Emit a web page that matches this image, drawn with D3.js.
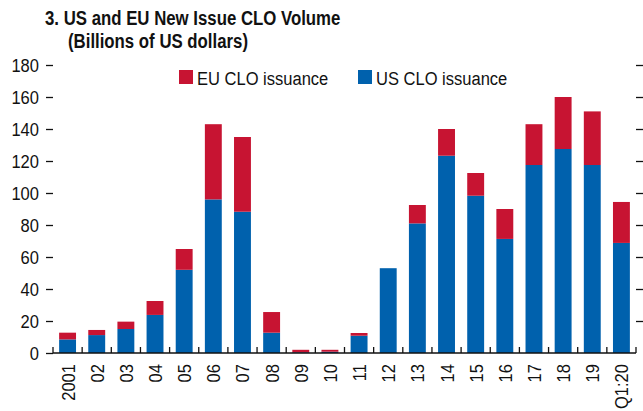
<!DOCTYPE html>
<html>
<head>
    <style>
        body { margin: 0; background: #fff; }
        svg text { font-family: "Liberation Sans", Arial, sans-serif; fill: #111; }
        .title { font-weight: bold; font-size: 21px; }
        .tick-label { font-size: 19px; }
        .legend text { font-size: 19px; }
    </style>
    <script src="https://d3js.org/d3.v7.min.js"></script>
</head>
<body>
    <svg width="643" height="411"></svg>

    <script>
        // chart data (billions of US dollars)
        var years = ["2001", "02", "03", "04", "05", "06", "07", "08", "09", "10",
                     "11", "12", "13", "14", "15", "16", "17", "18", "19", "Q1:20"];
        var usCLO = [8.5, 11.2, 15, 23.8, 52, 96, 88.3, 12.7, 0.4, 0.8,
                     10.8, 53, 81, 123.3, 98.3, 71.3, 117.5, 127.5, 117.5, 68.8];
        var euCLO = [4.2, 3.2, 4.6, 8.7, 13, 47, 46.7, 12.9, 1.6, 1.2,
                     1.7, 0, 11.5, 16.7, 14.2, 18.7, 25.5, 32.5, 33.5, 25.6];
        var yTicks = [0, 20, 40, 60, 80, 100, 120, 140, 160, 180];

        var blue = "#0061ad", red = "#c71432";
        var narrow = 0.87; // condensed look of the original font

        var svg = d3.select("svg");
        var mLeft = 53, mRight = 636, mTop = 65, mBottom = 353;

        var x = d3.scaleBand()
                  .domain(years)
                  .range([mLeft, mRight])
                  .paddingInner(0.42)
                  .paddingOuter(0.21);

        var y = d3.scaleLinear()
                  .domain([0, 180])
                  .range([mBottom, mTop]);

        // title
        svg.append("text").attr("class", "title")
           .attr("transform", "translate(45,25) scale(0.8,1)")
           .text("3. US and EU New Issue CLO Volume");
        svg.append("text").attr("class", "title")
           .attr("transform", "translate(68,48) scale(0.8,1)")
           .text("(Billions of US dollars)");

        // stacked bars
        var rows = years.map(function(yr, i) {
            return { year: yr, us: usCLO[i], eu: euCLO[i] };
        });
        var stack = d3.stack().keys(["us", "eu"])(rows);
        var colors = { us: blue, eu: red };

        svg.append("g").selectAll("g")
           .data(stack)
           .enter().append("g")
           .attr("fill", function(s) { return colors[s.key]; })
           .selectAll("rect")
           .data(function(s) { return s; })
           .enter().append("rect")
           .attr("x", function(d) { return x(d.data.year); })
           .attr("width", x.bandwidth())
           .attr("y", function(d) { return y(d[1]); })
           .attr("height", function(d) { return y(d[0]) - y(d[1]); });

        // left axis: labels and short ticks, no domain line
        var yAxis = svg.append("g")
           .attr("transform", "translate(" + mLeft + ",0)")
           .call(d3.axisLeft(y).tickValues(yTicks).tickSize(7));
        yAxis.select(".domain").remove();
        yAxis.selectAll(".tick line").attr("stroke", "#111").attr("stroke-width", 1.3);
        yAxis.selectAll(".tick text")
             .attr("class", "tick-label")
             .attr("font-family", null).attr("font-size", null).attr("fill", "#111")
             .attr("x", null).attr("dy", "0.34em")
             .attr("transform", "translate(-14,0) scale(" + narrow + ",1)");

        // right axis: ticks only
        var yRight = svg.append("g")
           .attr("transform", "translate(" + mRight + ",0)")
           .call(d3.axisRight(y).tickValues(yTicks.slice(1)).tickSize(7).tickFormat(""));
        yRight.select(".domain").remove();
        yRight.selectAll(".tick line").attr("stroke", "#111").attr("stroke-width", 1.3);

        // x axis baseline with boundary ticks
        svg.append("line")
           .attr("x1", mLeft).attr("x2", mRight)
           .attr("y1", y(0)).attr("y2", y(0))
           .attr("stroke", "#111").attr("stroke-width", 1.5);

        var bounds = d3.range(years.length + 1).map(function(i) { return mLeft + i * x.step(); });
        svg.append("g").selectAll("line")
           .data(bounds)
           .enter().append("line")
           .attr("x1", function(d) { return d; }).attr("x2", function(d) { return d; })
           .attr("y1", y(0)).attr("y2", y(0) - 6)
           .attr("stroke", "#111").attr("stroke-width", 1.3);

        // rotated category labels
        svg.append("g").selectAll("text")
           .data(years)
           .enter().append("text")
           .attr("class", "tick-label")
           .attr("text-anchor", "end")
           .attr("transform", function(d) {
               return "translate(" + (x(d) + x.bandwidth() / 2 + 7) + "," + (y(0) + 11) +
                      ") rotate(-90) scale(" + narrow + ",1)";
           })
           .text(function(d) { return d; });

        // legend
        var legendItems = [{ name: "EU CLO issuance", color: red, x: 179 },
                           { name: "US CLO issuance", color: blue, x: 358 }];
        var lg = svg.append("g").attr("class", "legend")
           .selectAll("g").data(legendItems)
           .enter().append("g")
           .attr("transform", function(d) { return "translate(" + d.x + ",70)"; });
        lg.append("rect").attr("width", 14).attr("height", 14)
          .attr("fill", function(d) { return d.color; });
        lg.append("text")
          .attr("transform", "translate(18,14.5) scale(" + narrow + ",1)")
          .text(function(d) { return d.name; });
    </script>
</body>
</html>
